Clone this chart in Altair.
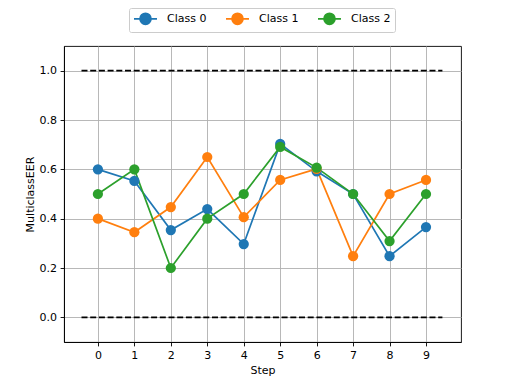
import altair as alt
import pandas as pd

steps = list(range(10))
class_names = ["Class 0", "Class 1", "Class 2"]
class0 = [0.60, 0.553, 0.354, 0.439, 0.297, 0.703, 0.592, 0.50, 0.248, 0.366]
class1 = [0.40, 0.345, 0.447, 0.650, 0.406, 0.557, 0.602, 0.248, 0.50, 0.557]
class2 = [0.50, 0.60, 0.20, 0.40, 0.50, 0.691, 0.607, 0.50, 0.309, 0.50]
colors = ["#1f77b4", "#ff7f0e", "#2ca02c"]

ref_levels = [0.0, 1.0]
ref_start = -0.45
ref_end = 9.45

rows = []
for name, vals in zip(class_names, [class0, class1, class2]):
    for s, v in zip(steps, vals):
        rows.append({"Step": s, "value": v, "cls": name})
df = pd.DataFrame(rows)
ref = pd.DataFrame({"y": ref_levels, "x": [ref_start] * 2, "x2": [ref_end] * 2})

xscale = alt.Scale(domain=[-0.93, 9.96], nice=False, zero=False)
yscale = alt.Scale(domain=[-0.1, 1.1], nice=False, zero=False)
xaxis = alt.Axis(values=steps, format="d", title="Step")
yaxis = alt.Axis(values=[0.0, 0.2, 0.4, 0.6, 0.8, 1.0], format=".1f", title="MulticlassEER")

# legend glyph: short line with a circle in its middle (unit = symbol radius)
sym = "M-1,0L3.18,0M2.09,0A1,1,0,1,1,0.09,0A1,1,0,1,1,2.09,0Z"
color = alt.Color(
    "cls:N",
    scale=alt.Scale(domain=class_names, range=colors),
    legend=alt.Legend(
        title=None,
        orient="none",
        legendX=65,
        legendY=-38,
        direction="horizontal",
        symbolType=sym,
        symbolSize=121,
        symbolStrokeWidth=1.7,
        labelOffset=21,
        columnPadding=15,
        padding=4,
        fillColor="white",
        strokeColor="#cccccc",
        cornerRadius=2,
        labelFontSize=11,
        labelFont="DejaVu Sans",
        labelColor="black",
    ),
)

base = alt.Chart(df).encode(
    x=alt.X("Step:Q", scale=xscale, axis=xaxis),
    y=alt.Y("value:Q", scale=yscale, axis=yaxis),
    color=color,
    order=alt.Order("Step:Q"),
)
lines = base.mark_line(strokeWidth=1.7)
points = base.mark_point(filled=True, size=105, opacity=1)

rules = alt.Chart(ref).mark_rule(color="black", strokeWidth=1.7, strokeDash=[6, 2.7]).encode(
    x=alt.X("x:Q", scale=xscale),
    x2="x2:Q",
    y=alt.Y("y:Q", scale=yscale),
)

chart = alt.layer(rules, lines, points).properties(
    width=397,
    height=296,
    autosize=alt.AutoSizeParams(type="none"),
    padding={"left": 56, "top": 38, "right": 43, "bottom": 34},
).configure_axis(
    gridColor="#b0b0b0",
    gridWidth=0.9,
    domainColor="black",
    domainWidth=0.9,
    tickColor="black",
    tickSize=3.9,
    tickWidth=0.9,
    labelPadding=3.5,
    labelColor="black",
    labelFont="DejaVu Sans",
    labelFontSize=11,
    titleFont="DejaVu Sans",
    titleFontSize=11,
    titleFontWeight="normal",
    titleColor="black",
).configure_view(stroke="black", strokeWidth=0.9)

chart.save("out.html", embed_options={"renderer": "svg", "actions": False})
